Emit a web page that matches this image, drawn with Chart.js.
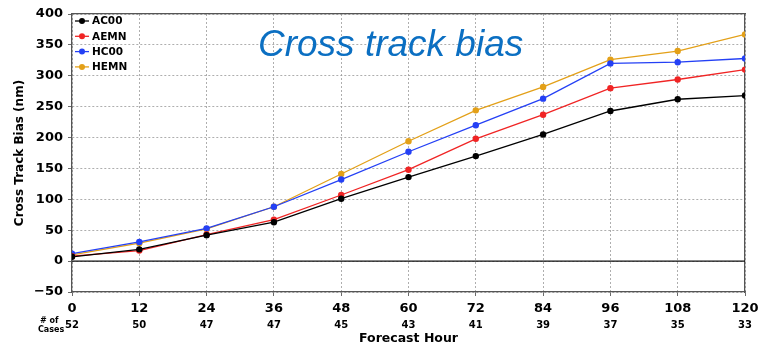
<!DOCTYPE html>
<html>
<head>
<meta charset="utf-8">
<script src="https://cdn.jsdelivr.net/npm/chart.js@4.4.1/dist/chart.umd.min.js"></script>
<style>
  html, body { margin: 0; padding: 0; background: #fff; }
  #wrap { width: 759px; height: 344px; }
</style>
</head>
<body>
<div id="wrap"><canvas id="bias-chart" width="759" height="344"></canvas></div>
<script>
// forecast hours and number of cases per hour
const hours = [0, 12, 24, 36, 48, 60, 72, 84, 96, 108, 120];
const cases = [52, 50, 47, 47, 45, 43, 41, 39, 37, 35, 33];

// cross track bias (nm) per model
const ac00 = [7, 19, 42, 63, 101, 136, 170, 205, 243, 262, 268];
const aemn = [8, 17, 43, 67, 107, 148, 198, 237, 280, 294, 310];
const hc00 = [12, 31, 53, 88, 132, 177, 220, 263, 320, 322, 328];
const hemn = [10, 29, 52, 88, 141, 194, 244, 282, 326, 340, 367];

const seriesNames = ['AC00', 'AEMN', 'HC00', 'HEMN'];
const seriesColors = ['#000000', '#f02424', '#2440f5', '#e3a018'];
const seriesValues = [ac00, aemn, hc00, hemn];

const tickFont = { family: 'DejaVu Sans', size: 13, weight: 'bold' };

const overlay = {
    id: 'overlay',
    beforeDatasetsDraw(chart) {
        const { ctx, chartArea, scales } = chart;
        // solid zero line
        const y0 = scales.y.getPixelForValue(0);
        ctx.save();
        ctx.strokeStyle = '#111';
        ctx.lineWidth = 1.3;
        ctx.beginPath();
        ctx.moveTo(chartArea.left, y0);
        ctx.lineTo(chartArea.right, y0);
        ctx.stroke();
        ctx.restore();
    },
    afterDraw(chart) {
        const { ctx, chartArea, scales } = chart;
        ctx.save();

        // number of cases under each hour
        ctx.fillStyle = '#000';
        ctx.font = 'bold 10px "DejaVu Sans"';
        ctx.textAlign = 'center';
        ctx.textBaseline = 'middle';
        hours.forEach((h, i) => {
            ctx.fillText(String(cases[i]), scales.x.getPixelForValue(h), 325);
        });
        ctx.font = 'bold 8px "DejaVu Sans"';
        ctx.textAlign = 'left';
        ctx.fillText('# of', 40, 321);
        ctx.fillText('Cases', 38, 330);

        // legend in top left corner
        ctx.font = 'bold 10.5px "DejaVu Sans"';
        seriesNames.forEach((name, i) => {
            const y = chartArea.top + 7 + i * 15.3;
            const x = chartArea.left + 3;
            ctx.strokeStyle = seriesColors[i];
            ctx.fillStyle = seriesColors[i];
            ctx.lineWidth = 1.3;
            ctx.beginPath();
            ctx.moveTo(x, y);
            ctx.lineTo(x + 14, y);
            ctx.stroke();
            ctx.beginPath();
            ctx.arc(x + 7, y, 3, 0, Math.PI * 2);
            ctx.fill();
            ctx.fillStyle = '#000';
            ctx.fillText(name, x + 17, y + 0.5);
        });

        // big title inside the plot
        ctx.fillStyle = '#0b6fc2';
        ctx.font = 'italic 37px "Liberation Sans"';
        ctx.textAlign = 'left';
        ctx.textBaseline = 'alphabetic';
        ctx.fillText('Cross track bias', 258, 56);

        ctx.restore();
    }
};

new Chart(document.getElementById('bias-chart'), {
    type: 'line',
    data: {
        datasets: seriesNames.map((name, i) => ({
            label: name,
            data: hours.map((h, j) => ({ x: h, y: seriesValues[i][j] })),
            borderColor: seriesColors[i],
            backgroundColor: seriesColors[i],
            borderWidth: 1.3,
            pointRadius: 3.2,
            pointBorderWidth: 0,
            tension: 0,
            fill: false,
        }))
    },
    options: {
        responsive: false,
        animation: false,
        layout: { padding: { top: 14, right: 14, left: 0, bottom: 0 } },
        scales: {
            x: {
                type: 'linear',
                min: 0,
                max: 120,
                afterFit: s => { s.height = 52; s.paddingRight = 0; s.paddingLeft = 0; },
                ticks: { stepSize: 12, color: '#000', font: tickFont, padding: 5, maxRotation: 0 },
                grid: { color: '#9a9a9a', lineWidth: 0.8, tickLength: 4, tickColor: '#444' },
                border: { display: true, color: '#555', width: 1.3, dash: [2, 2] },
                title: {
                    display: true,
                    text: 'Forecast Hour',
                    color: '#000',
                    font: { family: 'DejaVu Sans', size: 12.5, weight: 'bold' },
                    padding: { top: 0, bottom: -2 }
                }
            },
            y: {
                min: -50,
                max: 400,
                afterFit: s => { s.width = 72; },
                ticks: {
                    stepSize: 50,
                    color: '#000',
                    font: tickFont,
                    padding: 5,
                    callback: v => (v < 0 ? '\u2212' + Math.abs(v) : String(v))
                },
                grid: { color: '#9a9a9a', lineWidth: 0.8, tickLength: 4, tickColor: '#444' },
                border: { display: true, color: '#555', width: 1.3, dash: [2, 2] },
                title: {
                    display: true,
                    text: 'Cross Track Bias (nm)',
                    color: '#000',
                    font: { family: 'DejaVu Sans', size: 12, weight: 'bold' },
                    padding: { top: 13, bottom: 0 }
                }
            },
            x2: {
                type: 'linear',
                position: 'top',
                min: 0,
                max: 120,
                afterFit: s => { s.height = 0; s.paddingRight = 0; s.paddingLeft = 0; },
                ticks: { display: false },
                grid: { display: false },
                border: { display: true, color: '#555', width: 1.3 }
            },
            y2: {
                position: 'right',
                min: -50,
                max: 400,
                afterFit: s => { s.width = 0; },
                ticks: { display: false },
                grid: { display: false },
                border: { display: true, color: '#555', width: 1.3 }
            }
        },
        plugins: {
            legend: { display: false },
            tooltip: { enabled: false }
        }
    },
    plugins: [overlay]
});
</script>
</body>
</html>
